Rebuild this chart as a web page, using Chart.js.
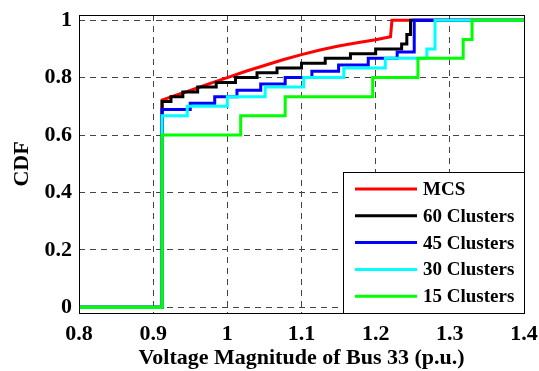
<!DOCTYPE html>
<html>
<head>
<meta charset="utf-8">
<script src="https://cdn.jsdelivr.net/npm/chart.js@4/dist/chart.umd.min.js"></script>
<style>
  html, body { margin: 0; padding: 0; background: #fff; }
  #wrap { width: 539px; height: 371px; }
</style>
</head>
<body>
<div id="wrap"><canvas id="myChart" width="539" height="371"></canvas></div>
<script>
// tick labels
const xTicks = [0.8, 0.9, 1.0, 1.1, 1.2, 1.3, 1.4]
const xTickLabels = ['0.8', '0.9', '1', '1.1', '1.2', '1.3', '1.4']
const yTicks = [0, 0.2, 0.4, 0.6, 0.8, 1]
const yTickLabels = ['0', '0.2', '0.4', '0.6', '0.8', '1']

const seriesNames = ['MCS', '60 Clusters', '45 Clusters', '30 Clusters', '15 Clusters']
const seriesColors = ['#ff0000', '#000000', '#0000ff', '#00ffff', '#00ff00']

// MCS curve (drawn as a plain line)
const mcsX = [0.8, 0.912, 0.912, 0.93, 0.95, 0.975, 1.0, 1.025, 1.05, 1.075, 1.1, 1.125, 1.15, 1.175, 1.2, 1.22, 1.222, 1.4]
const mcsY = [0, 0, 0.722, 0.738, 0.755, 0.778, 0.8, 0.822, 0.842, 0.862, 0.88, 0.896, 0.91, 0.921, 0.932, 0.942, 1, 1]

// cluster CDFs: value jumps to y at x
const c60X = [0.8, 0.912, 0.924, 0.94, 0.96, 0.985, 1.011, 1.04, 1.067, 1.1, 1.132, 1.166, 1.2, 1.235, 1.242, 1.247, 1.4]
const c60Y = [0, 0.717, 0.733, 0.75, 0.767, 0.783, 0.8, 0.817, 0.833, 0.85, 0.867, 0.883, 0.9, 0.917, 0.95, 1, 1]

const c45X = [0.8, 0.912, 0.95, 0.983, 1.013, 1.045, 1.078, 1.114, 1.15, 1.19, 1.229, 1.252, 1.4]
const c45Y = [0, 0.689, 0.711, 0.733, 0.756, 0.778, 0.8, 0.822, 0.844, 0.867, 0.889, 1, 1]

const c30X = [0.8, 0.912, 0.946, 1.0, 1.051, 1.103, 1.157, 1.213, 1.269, 1.28, 1.4]
const c30Y = [0, 0.667, 0.7, 0.733, 0.767, 0.8, 0.833, 0.867, 0.9, 1, 1]

const c15X = [0.8, 0.912, 1.018, 1.078, 1.196, 1.257, 1.318, 1.33, 1.4]
const c15Y = [0, 0.6, 0.667, 0.733, 0.8, 0.867, 0.933, 1, 1]

const toPoints = (xs, ys) => xs.map((x, i) => ({ x: x, y: ys[i] }))

const FONT = "'Liberation Serif', 'Times New Roman', serif"

const allX = [mcsX, c60X, c45X, c30X, c15X]
const allY = [mcsY, c60Y, c45Y, c30Y, c15Y]

const datasets = seriesNames.map((name, i) => ({
    label: name,
    data: toPoints(allX[i], allY[i]),
    borderColor: seriesColors[i],
    backgroundColor: seriesColors[i],
    borderWidth: 3,
    pointRadius: 0,
    fill: false,
    stepped: i === 0 ? false : true,
    // later series drawn on top
    order: seriesNames.length - i
}))

const frameAndLegend = {
    id: 'frameAndLegend',
    afterDraw(chart) {
        const ctx = chart.ctx
        const a = chart.chartArea
        ctx.save()
        // legend box
        const bw = 181, bh = 141
        const bx = a.right - bw, by = a.bottom - bh
        ctx.fillStyle = '#fff'
        ctx.fillRect(bx, by, bw, bh)
        ctx.strokeStyle = '#000'
        ctx.lineWidth = 1
        ctx.strokeRect(bx + 0.5, by + 0.5, bw, bh)
        ctx.font = 'bold 19px ' + FONT
        ctx.textBaseline = 'middle'
        ctx.textAlign = 'left'
        chart.data.datasets.forEach((ds, i) => {
            const yy = by + 17 + i * 26.8
            ctx.strokeStyle = ds.borderColor
            ctx.lineWidth = 3
            ctx.beginPath()
            ctx.moveTo(bx + 12, yy)
            ctx.lineTo(bx + 74, yy)
            ctx.stroke()
            ctx.fillStyle = '#000'
            ctx.fillText(ds.label, bx + 80, yy + 1)
        })
        // axes frame
        ctx.strokeStyle = '#000'
        ctx.lineWidth = 1
        ctx.strokeRect(a.left + 0.5, a.top + 0.5, a.right - a.left, a.bottom - a.top)
        ctx.restore()
    }
}

const gridOpts = {
    color: '#444',
    lineWidth: 1,
    drawTicks: false
}

const ctx = document.getElementById('myChart').getContext('2d')
const chart = new Chart(ctx, {
    type: 'line',
    data: { datasets: datasets },
    options: {
        responsive: false,
        animation: false,
        layout: { padding: { left: 0, right: 15, top: 15, bottom: 0 } },
        plugins: {
            legend: { display: false },
            tooltip: { enabled: false }
        },
        scales: {
            x: {
                type: 'linear',
                min: 0.8,
                max: 1.4,
                afterBuildTicks: axis => { axis.ticks = xTicks.map(v => ({ value: v })) },
                afterFit: axis => {
                    axis.height = 58
                    axis.paddingLeft = 0
                    axis.paddingRight = 0
                },
                grid: gridOpts,
                border: { display: false, dash: [6, 5] },
                ticks: {
                    color: '#000',
                    padding: 8,
                    maxRotation: 0,
                    font: { family: FONT, size: 22, weight: 'bold' },
                    callback: (v, i) => xTickLabels[i]
                },
                title: {
                    display: true,
                    text: 'Voltage Magnitude of Bus 33 (p.u.)',
                    color: '#000',
                    font: { family: FONT, size: 22, weight: 'bold', lineHeight: 1 },
                    padding: { top: 0, bottom: 2 }
                }
            },
            y: {
                type: 'linear',
                min: -0.02,
                max: 1.018,
                afterBuildTicks: axis => { axis.ticks = yTicks.map(v => ({ value: v })) },
                afterFit: axis => {
                    axis.width = 79
                    axis.paddingTop = 0
                    axis.paddingBottom = 0
                },
                grid: gridOpts,
                border: { display: false, dash: [6, 5] },
                ticks: {
                    color: '#000',
                    padding: 7,
                    font: { family: FONT, size: 22, weight: 'bold' },
                    callback: (v, i) => yTickLabels[i]
                },
                title: {
                    display: true,
                    text: 'CDF',
                    color: '#000',
                    font: { family: FONT, size: 22, weight: 'bold', lineHeight: 1 },
                    padding: { top: 11, bottom: 0 }
                }
            }
        }
    },
    plugins: [frameAndLegend]
})
</script>
</body>
</html>
